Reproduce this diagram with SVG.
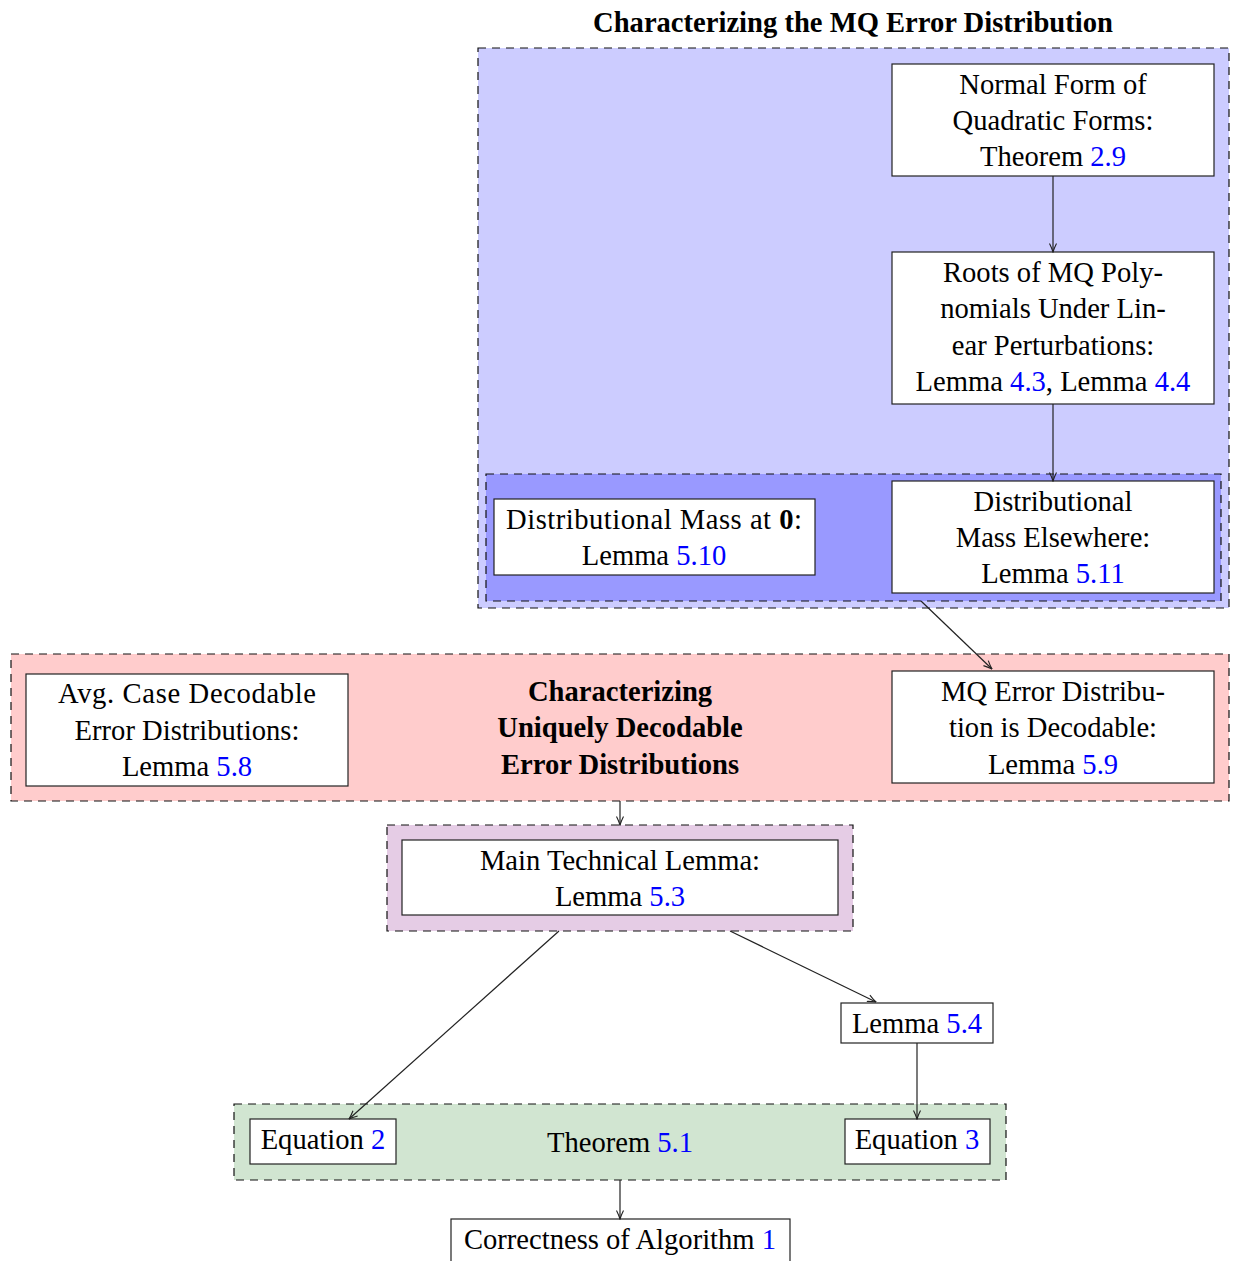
<svg xmlns="http://www.w3.org/2000/svg" width="1233" height="1261" viewBox="0 0 1233 1261">
<style>
text{font-family:"Liberation Serif","Times New Roman",serif;font-size:28.6px;fill:#000;text-anchor:middle}
.b{font-weight:bold}
.ref{fill:#0000ff}
.grp{stroke:#111;stroke-width:1.2;stroke-dasharray:8,6}
.node{fill:#fff;stroke:#222;stroke-width:1.2}
.conn line{stroke:#222;stroke-width:1.2;marker-end:url(#arr)}
</style>
<defs>
<marker id="arr" viewBox="0 0 10 10" refX="9.5" refY="5" markerWidth="10" markerHeight="10" markerUnits="userSpaceOnUse" orient="auto">
<path d="M1,1.5 Q6,4 9.5,5 Q6,6 1,8.5" fill="none" stroke="#222" stroke-width="1.1"/>
</marker>
</defs>
<rect width="1233" height="1261" fill="#fff"/>

<g id="grp-mq">
<text class="b" x="853" y="32">Characterizing the MQ Error Distribution</text>
<rect class="grp" x="478" y="48" width="751" height="560" fill="#ccccff"/>
<rect class="grp" x="486" y="474" width="735" height="127" fill="#9999ff"/>
</g>
<g id="grp-decode">
<rect class="grp" x="11" y="654" width="1218" height="147" fill="#ffcccc"/>
<text class="b" x="620" y="701">Characterizing</text>
<text class="b" x="620" y="737">Uniquely Decodable</text>
<text class="b" x="620" y="774">Error Distributions</text>
</g>
<g id="grp-main">
<rect class="grp" x="387" y="825" width="466" height="106" fill="#e5cce5"/>
</g>
<g id="grp-thm">
<rect class="grp" x="234" y="1104" width="772" height="76" fill="#d1e5d1"/>
<text x="620" y="1152">Theorem <tspan class="ref">5.1</tspan></text>
</g>

<g id="normal-form">
<rect class="node" x="892" y="64" width="322" height="112"/>
<text x="1053" y="94">Normal Form of</text>
<text x="1053" y="130">Quadratic Forms:</text>
<text x="1053" y="166">Theorem <tspan class="ref">2.9</tspan></text>
</g>
<g id="roots">
<rect class="node" x="892" y="252" width="322" height="152"/>
<text x="1053" y="282">Roots of MQ Poly-</text>
<text x="1053" y="318">nomials Under Lin-</text>
<text x="1053" y="355">ear Perturbations:</text>
<text x="1053" y="391">Lemma <tspan class="ref">4.3</tspan>, Lemma <tspan class="ref">4.4</tspan></text>
</g>
<g id="mass-else">
<rect class="node" x="892" y="481" width="322" height="112"/>
<text x="1053" y="511">Distributional</text>
<text x="1053" y="547">Mass Elsewhere:</text>
<text x="1053" y="583">Lemma <tspan class="ref">5.11</tspan></text>
</g>
<g id="mass-zero">
<rect class="node" x="494" y="499" width="321" height="76"/>
<text x="654" y="529" textLength="296" lengthAdjust="spacing">Distributional Mass at <tspan class="b">0</tspan>:</text>
<text x="654" y="565">Lemma <tspan class="ref">5.10</tspan></text>
</g>
<g id="avg-case">
<rect class="node" x="26" y="674" width="322" height="112"/>
<text x="187" y="703" textLength="258" lengthAdjust="spacing">Avg. Case Decodable</text>
<text x="187" y="740">Error Distributions:</text>
<text x="187" y="776">Lemma <tspan class="ref">5.8</tspan></text>
</g>
<g id="mq-decodable">
<rect class="node" x="892" y="671" width="322" height="112"/>
<text x="1053" y="701">MQ Error Distribu-</text>
<text x="1053" y="737">tion is Decodable:</text>
<text x="1053" y="774">Lemma <tspan class="ref">5.9</tspan></text>
</g>
<g id="main-lemma">
<rect class="node" x="402" y="840" width="436" height="75"/>
<text x="620" y="870">Main Technical Lemma:</text>
<text x="620" y="906">Lemma <tspan class="ref">5.3</tspan></text>
</g>
<g id="lemma54">
<rect class="node" x="841" y="1003" width="152" height="40"/>
<text x="917" y="1033">Lemma <tspan class="ref">5.4</tspan></text>
</g>
<g id="eq2">
<rect class="node" x="250" y="1119" width="146" height="45"/>
<text x="323" y="1149">Equation <tspan class="ref">2</tspan></text>
</g>
<g id="eq3">
<rect class="node" x="845" y="1119" width="145" height="45"/>
<text x="917" y="1149">Equation <tspan class="ref">3</tspan></text>
</g>
<g id="correctness">
<rect class="node" x="451" y="1219" width="339" height="50"/>
<text x="620" y="1249">Correctness of Algorithm <tspan class="ref">1</tspan></text>
</g>

<g id="connectors" class="conn">
<line x1="1053" y1="176" x2="1053" y2="252"/>
<line x1="1053" y1="404" x2="1053" y2="481"/>
<line x1="921" y1="601" x2="992" y2="669"/>
<line x1="620" y1="801" x2="620" y2="825"/>
<line x1="559" y1="931" x2="349" y2="1119"/>
<line x1="730" y1="931" x2="876" y2="1002"/>
<line x1="917" y1="1043" x2="917" y2="1119"/>
<line x1="620" y1="1180" x2="620" y2="1219"/>
</g>
</svg>
